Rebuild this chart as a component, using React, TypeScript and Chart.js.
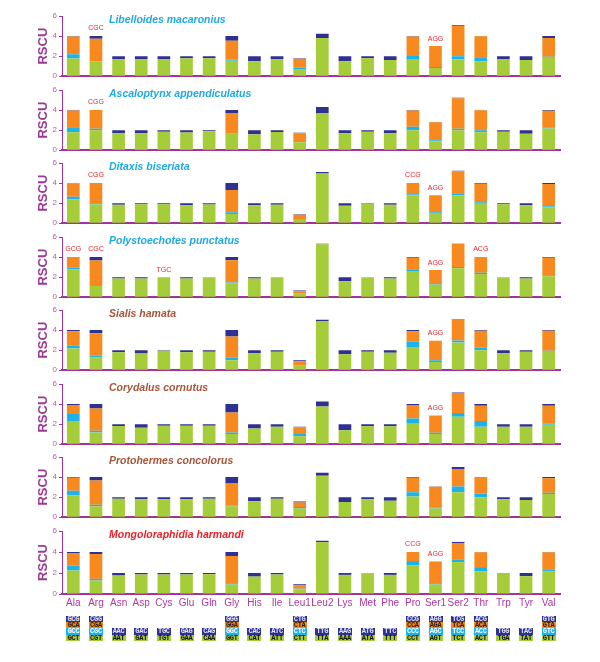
import React, { useEffect, useRef } from "react";
import { Chart, registerables } from "chart.js";
Chart.register(...registerables);

const categories = ["Ala","Arg","Asn","Asp","Cys","Glu","Gln","Gly","His","Ile","Leu1","Leu2","Lys","Met","Phe","Pro","Ser1","Ser2","Thr","Trp","Tyr","Val"];

// codons, listed top -> bottom as in the legend boxes
const codons = [
  ["GCG","GCA","GCC","GCT"],["CGG","CGA","CGC","CGT"],["AAC","AAT"],["GAC","GAT"],["TGC","TGT"],
  ["GAG","GAA"],["CAG","CAA"],["GGG","GGA","GGC","GGT"],["CAC","CAT"],["ATC","ATT"],
  ["CTG","CTA","CTC","CTT"],["TTG","TTA"],["AAG","AAA"],["ATG","ATA"],["TTC","TTT"],
  ["CCG","CCA","CCC","CCT"],["AGG","AGA","AGC","AGT"],["TCG","TCA","TCC","TCT"],["ACG","ACA","ACC","ACT"],
  ["TGG","TGA"],["TAC","TAT"],["GTG","GTA","GTC","GTT"],
];

const speciesNames = ["Libelloides macaronius","Ascaloptynx appendiculatus","Ditaxis biseriata","Polystoechotes punctatus","Sialis hamata","Corydalus cornutus","Protohermes concolorus","Mongoloraphidia harmandi"];
const speciesColors = ["#1ea9e2","#1ea9e2","#1ea9e2","#1ea9e2","#a5553a","#a5553a","#a5553a","#e8232b"];

// Libelloides macaronius
const lmGreen = [1.77,1.49,1.71,1.71,1.71,1.80,1.80,1.55,1.49,1.71,0.73,3.80,1.49,1.80,1.62,1.65,0.82,1.68,1.49,1.71,1.62,1.84];
const lmCyan = [0.43,0,0,0,0,0,0,0.12,0,0,0.10,0,0,0,0,0.37,0.10,0.32,0.41,0,0,0.09];
const lmOrange = [1.75,2.24,0,0,0,0,0,1.87,0,0,0.92,0,0,0,0,1.93,2.08,3.00,2.08,0,0,1.87];
const lmNavy = [0.05,0.27,0.29,0.29,0.29,0.20,0.20,0.46,0.51,0.29,0.05,0.42,0.51,0.20,0.38,0.05,0,0.08,0.02,0.29,0.38,0.20];
const lmNotes = [["Arg","CGC"],["Ser1","AGG"]];

// Ascaloptynx appendiculatus
const aaGreen = [1.79,2.00,1.69,1.69,1.85,1.76,1.88,1.63,1.60,1.82,0.80,3.70,1.69,1.85,1.69,1.98,0.90,1.98,1.79,1.85,1.63,2.17];
const aaCyan = [0.50,0.15,0,0,0,0,0,0.06,0,0,0.02,0,0,0,0,0.35,0.10,0.17,0.19,0,0,0.07];
const aaOrange = [1.66,1.85,0,0,0,0,0,2.01,0,0,0.88,0,0,0,0,1.62,1.78,3.03,2.00,0,0,1.69];
const aaNavy = [0.05,0,0.31,0.31,0.15,0.24,0.12,0.30,0.40,0.18,0.05,0.60,0.31,0.15,0.31,0.05,0.03,0.05,0.02,0.15,0.37,0.07];
const aaNotes = [["Arg","CGG"]];

// Ditaxis biseriata
const dbGreen = [2.35,1.87,1.84,1.90,1.90,1.78,1.87,0.92,1.78,1.84,0.35,4.95,1.75,1.94,1.84,2.76,1.02,2.76,1.94,1.90,1.78,1.56];
const dbCyan = [0.28,0.13,0,0,0,0,0,0.16,0,0,0.06,0,0,0,0,0.13,0.06,0.22,0.16,0,0,0.12];
const dbOrange = [1.34,2.00,0,0,0,0,0,2.22,0,0,0.42,0,0,0,0,1.11,1.70,2.20,1.84,0,0,2.22];
const dbNavy = [0.03,0,0.16,0.10,0.10,0.22,0.13,0.70,0.22,0.16,0.07,0.15,0.25,0.06,0.16,0,0,0.05,0.06,0.10,0.22,0.10];
const dbNotes = [["Arg","CGG"],["Pro","CCG"],["Ser1","AGG"]];

// Polystoechotes punctatus
const ppGreen = [2.79,1.11,1.87,1.87,2.00,1.87,1.98,1.37,1.87,1.98,0.35,5.27,1.59,1.98,1.87,2.60,1.24,2.89,2.32,1.98,1.87,2.10];
const ppCyan = [0.16,0,0,0,0,0,0,0.09,0,0,0.03,0,0,0,0,0.19,0.06,0.13,0.12,0,0,0.09];
const ppOrange = [1.05,2.54,0,0,0,0,0,2.22,0,0,0.22,0,0,0,0,1.15,1.40,2.28,1.56,0,0,1.75];
const ppNavy = [0,0.35,0.13,0.13,0,0.13,0.02,0.32,0.13,0.02,0.07,0.06,0.41,0.02,0.13,0.06,0,0.02,0,0.02,0.13,0.06];
const ppNotes = [["Ala","GCG"],["Arg","CGC"],["Cys","TGC"],["Ser1","AGG"],["Thr","ACG"]];

// Sialis hamata
const shGreen = [2.17,1.29,1.80,1.67,1.94,1.80,1.83,1.00,1.70,1.83,0.44,4.90,1.60,1.83,1.73,2.30,0.82,2.77,1.98,1.70,1.83,1.83];
const shCyan = [0.26,0.16,0,0,0,0,0,0.23,0,0,0.05,0,0,0,0,0.53,0.16,0.19,0.26,0,0,0.12];
const shOrange = [1.44,2.24,0,0,0,0,0,2.14,0,0,0.39,0,0,0,0,1.04,1.95,2.10,1.70,0,0,1.99];
const shNavy = [0.13,0.31,0.20,0.33,0.06,0.20,0.17,0.63,0.30,0.17,0.10,0.12,0.40,0.17,0.27,0.13,0,0.05,0.06,0.30,0.17,0.06];
const shNotes = [["Ser1","AGG"]];

// Corydalus cornutus
const ccGreen = [2.32,1.17,1.81,1.65,1.84,1.84,1.84,1.02,1.56,1.75,0.80,3.75,1.40,1.78,1.78,2.03,1.02,2.73,1.75,1.75,1.75,1.94];
const ccCyan = [0.70,0.16,0,0,0,0,0,0.15,0,0,0.22,0,0,0,0,0.54,0.12,0.37,0.57,0,0,0.12];
const ccOrange = [0.88,2.23,0,0,0,0,0,2.00,0,0,0.66,0,0,0,0,1.33,1.72,2.00,1.52,0,0,1.78];
const ccNavy = [0.10,0.44,0.19,0.35,0.16,0.16,0.16,0.83,0.44,0.25,0.07,0.50,0.60,0.22,0.22,0.10,0,0.05,0.16,0.25,0.25,0.16];
const ccNotes = [["Ser1","AGG"]];

// Protohermes concolorus
const pcGreen = [2.16,1.08,1.84,1.78,1.78,1.78,1.84,1.08,1.59,1.84,0.86,4.14,1.52,1.78,1.65,2.06,0.86,2.48,2.00,1.78,1.71,2.32];
const pcCyan = [0.47,0.16,0,0,0,0,0,0.09,0,0,0.16,0,0,0,0,0.42,0.09,0.57,0.35,0,0,0.12];
const pcOrange = [1.31,2.42,0,0,0,0,0,2.20,0,0,0.44,0,0,0,0,1.46,2.08,1.75,1.60,0,0,1.44];
const pcNavy = [0.06,0.34,0.16,0.22,0.22,0.22,0.16,0.63,0.41,0.16,0.10,0.30,0.48,0.22,0.35,0.06,0.04,0.20,0.05,0.22,0.29,0.12];
const pcNotes: string[][] = [];

// Mongoloraphidia harmandi
const mhGreen = [2.24,1.28,1.76,1.86,1.86,1.86,1.89,0.90,1.66,1.86,0.45,4.93,1.82,1.97,1.82,2.75,0.90,3.04,2.14,1.96,1.70,2.14];
const mhCyan = [0.45,0.16,0,0,0,0,0,0.12,0,0,0.05,0,0,0,0,0.39,0.06,0.26,0.42,0,0,0.16];
const mhOrange = [1.21,2.37,0,0,0,0,0,2.60,0,0,0.33,0,0,0,0,0.86,2.14,1.56,1.42,0,0,1.67];
const mhNavy = [0.10,0.19,0.24,0.14,0.14,0.14,0.11,0.38,0.34,0.14,0.10,0.14,0.18,0.03,0.18,0,0,0.10,0.02,0.04,0.30,0.03];
const mhNotes = [["Pro","CCG"],["Ser1","AGG"]];

const panels = [
  [lmGreen, lmCyan, lmOrange, lmNavy, lmNotes],
  [aaGreen, aaCyan, aaOrange, aaNavy, aaNotes],
  [dbGreen, dbCyan, dbOrange, dbNavy, dbNotes],
  [ppGreen, ppCyan, ppOrange, ppNavy, ppNotes],
  [shGreen, shCyan, shOrange, shNavy, shNotes],
  [ccGreen, ccCyan, ccOrange, ccNavy, ccNotes],
  [pcGreen, pcCyan, pcOrange, pcNavy, pcNotes],
  [mhGreen, mhCyan, mhOrange, mhNavy, mhNotes],
] as any[];

const GREEN = "#a5cd39";
const CYAN = "#1cb3eb";
const ORANGE = "#f7891e";
const NAVY = "#2e3191";
const AXIS = "#a3329c";
const TICK = "#b55aa9";
const LABEL = "#b0359f";
const FONT = '"Liberation Sans", Arial, sans-serif';

const AREA_LEFT = 62;
const AREA_RIGHT = 560;
const PAD_TOP = 9;
const AREA_H = 63;
const zeroY = (i: number) => 79 + 73.57 * i;

function notePlugin(notes: string[][]) {
  return {
    id: "codonNotes",
    afterDatasetsDraw(chart: any) {
      const { ctx } = chart;
      const xs = chart.scales.x;
      const ys = chart.scales.y;
      ctx.save();
      ctx.font = `7px ${FONT}`;
      ctx.fillStyle = "#e8232b";
      ctx.textAlign = "center";
      ctx.textBaseline = "middle";
      notes.forEach(([cat, text]) => {
        const i = categories.indexOf(cat);
        const total = chart.data.datasets.reduce((s: number, d: any) => s + (d.data[i] as number), 0);
        ctx.fillText(text, xs.getPixelForValue(i), ys.getPixelForValue(total + 0.75));
      });
      ctx.restore();
    },
  };
}

function Panel({ index }: { index: number }) {
  const ref = useRef<HTMLCanvasElement>(null);
  const isLast = index === panels.length - 1;
  const xH = isLast ? 24 : 4;
  const height = PAD_TOP + AREA_H + xH;
  const top = Math.round(zeroY(index)) - AREA_H - PAD_TOP;
  useEffect(() => {
    const [g, c, o, n, notes] = panels[index];
    const chart = new Chart(ref.current as HTMLCanvasElement, {
      type: "bar",
      data: {
        labels: categories,
        datasets: [
          { data: g, backgroundColor: GREEN },
          { data: c, backgroundColor: CYAN },
          { data: o, backgroundColor: ORANGE },
          { data: n, backgroundColor: NAVY },
        ],
      },
      options: {
        responsive: false,
        animation: false,
        layout: { padding: { top: PAD_TOP, left: 0, right: 600 - AREA_RIGHT, bottom: 0 } },
        plugins: { legend: { display: false }, tooltip: { enabled: false } },
        datasets: { bar: { categoryPercentage: 1, barPercentage: 0.56 } },
        scales: {
          x: {
            stacked: true,
            grid: { display: false, drawTicks: false },
            border: { display: true, color: AXIS, width: 2 },
            ticks: { display: isLast, color: LABEL, font: { size: 10, family: FONT }, padding: 3, maxRotation: 0, autoSkip: false },
            afterFit: (s: any) => { s.height = xH; },
          },
          y: {
            stacked: true,
            min: 0,
            max: 6,
            ticks: { stepSize: 1, color: TICK, font: { size: 8, family: FONT }, padding: 2 },
            grid: { drawOnChartArea: false, drawTicks: true, tickLength: 3, color: AXIS },
            border: { display: true, color: AXIS, width: 1 },
            title: { display: true, text: "RSCU", color: "#9b3a94", font: { size: 13, weight: "bold", family: FONT }, padding: { top: 36, bottom: 0 } },
            afterFit: (s: any) => { s.width = AREA_LEFT; },
          },
        },
      } as any,
      plugins: [notePlugin(notes)],
    });
    return () => chart.destroy();
  }, [index]);
  return (
    <>
      <canvas ref={ref} width={600} height={height} style={{ position: "absolute", left: 0, top, width: 600, height }} />
      <div
        style={{
          position: "absolute",
          left: 109,
          top: Math.round(zeroY(index)) - AREA_H + 4 - 7,
          lineHeight: "14px",
          font: `italic bold 10.5px ${FONT}`,
          color: speciesColors[index],
          whiteSpace: "nowrap",
        }}
      >
        {speciesNames[index]}
      </div>
    </>
  );
}

const rowStyles4 = [
  { bg: NAVY, fg: "#e6e6f4" },
  { bg: ORANGE, fg: "#2a1a10" },
  { bg: CYAN, fg: "#ffffff" },
  { bg: GREEN, fg: "#111111" },
];
const rowStyles2 = [
  { bg: NAVY, fg: "#e6e6f4" },
  { bg: GREEN, fg: "#111111" },
];

function CodonLegend() {
  const step = (AREA_RIGHT - AREA_LEFT) / categories.length;
  const rowH = 6.35;
  const baseTop = 615.7;
  return (
    <>
      {codons.map((list, i) => {
        const cx = AREA_LEFT + step * (i + 0.5);
        const styles = list.length === 4 ? rowStyles4 : rowStyles2;
        const firstRow = 4 - list.length;
        return list.map((cod, r) => (
          <div
            key={cod}
            style={{
              position: "absolute",
              left: cx - 7,
              top: baseTop + (firstRow + r) * rowH,
              width: 14,
              height: rowH,
              background: styles[r].bg,
              color: styles[r].fg,
              font: `bold 7px "Liberation Mono", "Courier New", monospace`,
              letterSpacing: "-0.3px",
              lineHeight: `${rowH}px`,
              textAlign: "center",
              overflow: "hidden",
            }}
          >
            {cod}
          </div>
        ));
      })}
    </>
  );
}

export default function App() {
  return (
    <div style={{ position: "absolute", left: 0, top: 0, width: 600, height: 662, background: "#ffffff", overflow: "hidden" }}>
      {panels.map((_: any, i: number) => (
        <Panel key={i} index={i} />
      ))}
      <CodonLegend />
    </div>
  );
}
